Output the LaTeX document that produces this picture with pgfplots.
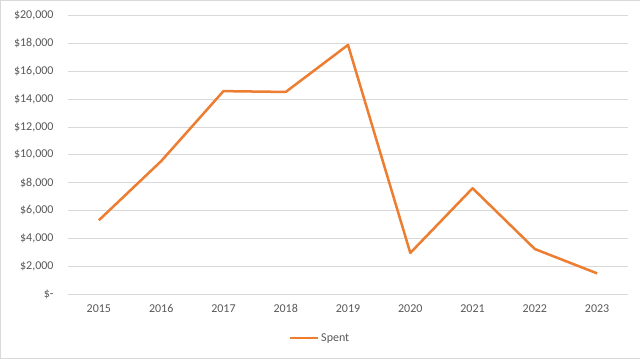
\documentclass[border=0pt]{standalone}
\usepackage{pgfplots}
\pgfplotsset{compat=1.18}
\usepackage{fontspec}
\setmainfont{Carlito}
\definecolor{lineor}{HTML}{ED7D31}
\definecolor{txt}{HTML}{595959}
\definecolor{gridc}{HTML}{D9D9D9}
\begin{document}
\begin{tikzpicture}[x=1pt,y=1pt]
\draw[gridc, fill=white] (0.5,0.5) rectangle (639.5,358.5);
\begin{axis}[at={(68pt,65pt)}, anchor=south west, scale only axis,
  width=560pt, height=278pt,
  xmin=-0.5, xmax=8.5, ymin=0, ymax=20000,
  scaled y ticks=false,
  xtick={0,...,8},
  xticklabels={2015,2016,2017,2018,2019,2020,2021,2022,2023},
  ytick={0,2000,...,20000},
  yticklabels={{\$-\hspace{5pt}},{\$2,000},{\$4,000},{\$6,000},{\$8,000},{\$10,000},{\$12,000},{\$14,000},{\$16,000},{\$18,000},{\$20,000}},
  axis line style={draw=none},
  ymajorgrids, grid style={gridc, line width=0.75pt},
  major tick length=0,
  tick label style={font=\fontsize{12}{14}\selectfont, text=txt},
  xticklabel style={yshift=-7pt},
  yticklabel style={anchor=east, xshift=-14pt, inner sep=0pt},
  legend style={at={(0.45,-0.158)}, anchor=center, draw=none, fill=none,
    font=\fontsize{12}{14}\selectfont, text=txt, inner sep=0pt},
  legend image code/.code={\draw[#1] (0pt,0pt) -- (28pt,0pt);},
]
\addplot[lineor, line width=2.5pt, line join=round] coordinates {
(0,5300) (1,9550) (2,14580) (3,14520) (4,17900) (5,2950) (6,7600) (7,3230) (8,1480)
};
\addlegendentry{Spent}
\end{axis}
\end{tikzpicture}
\end{document}
